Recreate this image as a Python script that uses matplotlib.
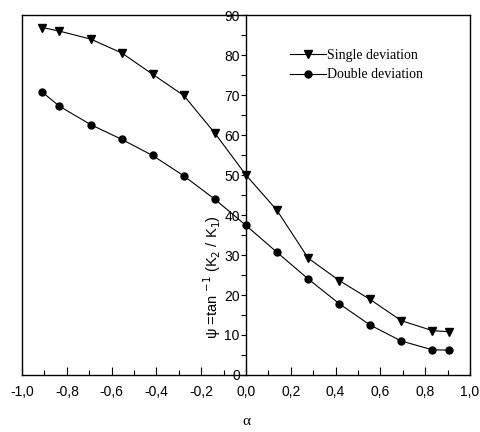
import matplotlib
matplotlib.use('Agg')
import matplotlib.pyplot as plt
from matplotlib.ticker import MultipleLocator, FuncFormatter

# data
alpha = [-0.909, -0.833, -0.693, -0.554, -0.417, -0.278, -0.138, 0.0,
         0.138, 0.278, 0.417, 0.554, 0.693, 0.832, 0.908]
single = [86.9, 86.0, 84.0, 80.5, 75.2, 69.9, 60.4, 50.0,
          41.2, 29.2, 23.6, 18.9, 13.6, 11.1, 10.8]
double = [70.7, 67.2, 62.6, 58.9, 54.9, 49.8, 43.9, 37.4,
          30.7, 24.0, 17.8, 12.5, 8.5, 6.3, 6.2]
labels = ['Single deviation', 'Double deviation']

sans = 'Liberation Sans'
serif = 'Liberation Serif'

fig = plt.figure(figsize=(4.8, 4.32), dpi=100)
ax = fig.add_axes([0.046, 0.132, 0.933, 0.833])

ax.plot(alpha, single, color='k', lw=0.8, marker='v', ms=5.5, label=labels[0])
ax.plot(alpha, double, color='k', lw=0.8, marker='o', ms=5, label=labels[1])

ax.set_xlim(-1, 1)
ax.set_ylim(0, 90)

# y axis sits at alpha = 0
ax.spines['left'].set_position(('data', 0))
ax.axvline(-1, color='k', lw=1.0, clip_on=False)
for s in ax.spines.values():
    s.set_linewidth(1.0)

ax.xaxis.set_major_locator(MultipleLocator(0.2))
ax.xaxis.set_minor_locator(MultipleLocator(0.1))
ax.yaxis.set_major_locator(MultipleLocator(10))
ax.yaxis.set_minor_locator(MultipleLocator(5))
ax.xaxis.set_major_formatter(FuncFormatter(lambda v, p: f'{v:.1f}'.replace('.', ',').replace('-0,0', '0,0')))
ax.tick_params(axis='x', which='major', direction='in', length=6, width=0.8, pad=7)
ax.tick_params(axis='x', which='minor', direction='in', length=3.5, width=0.8)
ax.tick_params(axis='y', which='both', direction='out', length=3.5, width=0.8, pad=1)
for t in ax.get_xticklabels() + ax.get_yticklabels():
    t.set_fontfamily(sans)
    t.set_fontsize(10)

ax.set_xlabel('α', family=serif, fontsize=11, labelpad=12)
ax.text(-0.15, 24.5, 'ψ =tan $^{-1}$ (K$_2$ / K$_1$)', rotation=90, ha='center', va='center',
        family=sans, fontsize=10.5)

leg = ax.legend(loc='upper left', bbox_to_anchor=(0.57, 0.94), frameon=False,
                prop={'family': serif, 'size': 10}, handlelength=2.6,
                handletextpad=0.1, labelspacing=0.45)

fig.savefig('out.png', dpi=100)
